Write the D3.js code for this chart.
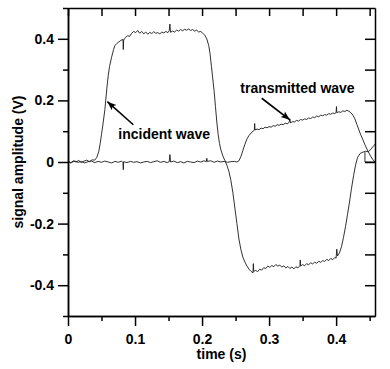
<!DOCTYPE html>
<html>
<head>
<meta charset="utf-8">
<script src="https://cdn.jsdelivr.net/npm/d3@7"></script>
<style>
  html, body { margin: 0; padding: 0; background: #fff; }
  svg { display: block; }
  text { font-family: "Liberation Sans", Arial, sans-serif; font-weight: bold; fill: #000; }
</style>
</head>
<body>
<svg id="chart" width="390" height="369"></svg>
<script>
// ---- data ----
const incidentT = [0.000,0.004,0.008,0.012,0.016,0.020,0.024,0.028,0.032,0.036,0.040,0.043,0.046,0.048,0.050,0.052,0.055,0.058,0.060,0.062,0.065,0.068,0.070,0.073,0.076,0.079,0.082,0.0825,0.083,0.086,0.089,0.092,0.095,0.098,0.101,0.104,0.107,0.110,0.113,0.116,0.119,0.122,0.125,0.128,0.131,0.134,0.137,0.140,0.143,0.146,0.149,0.151,0.152,0.153,0.156,0.159,0.162,0.165,0.168,0.171,0.174,0.177,0.180,0.183,0.186,0.189,0.192,0.195,0.198,0.201,0.204,0.207,0.210,0.212,0.214,0.216,0.218,0.220,0.222,0.224,0.226,0.228,0.231,0.234,0.237,0.240,0.243,0.246,0.249,0.252,0.255,0.258,0.261,0.264,0.267,0.270,0.273,0.276,0.2765,0.277,0.280,0.283,0.286,0.289,0.292,0.295,0.298,0.301,0.304,0.307,0.310,0.313,0.316,0.319,0.322,0.325,0.328,0.331,0.334,0.337,0.340,0.343,0.346,0.3465,0.347,0.350,0.353,0.356,0.359,0.362,0.365,0.368,0.371,0.374,0.377,0.380,0.383,0.386,0.389,0.392,0.395,0.398,0.400,0.401,0.402,0.405,0.408,0.411,0.414,0.417,0.420,0.423,0.426,0.429,0.432,0.436,0.440,0.444,0.448,0.452,0.455,0.458];
const incidentV = [0.002,-0.003,0.004,0.000,0.005,-0.002,0.003,0.006,0.001,0.007,0.006,0.015,0.035,0.060,0.090,0.120,0.170,0.240,0.280,0.310,0.340,0.365,0.378,0.385,0.390,0.395,0.398,0.365,0.396,0.405,0.410,0.408,0.418,0.424,0.420,0.427,0.418,0.424,0.416,0.422,0.415,0.421,0.417,0.423,0.418,0.420,0.416,0.422,0.419,0.424,0.420,0.426,0.448,0.421,0.425,0.422,0.428,0.425,0.430,0.426,0.431,0.428,0.432,0.427,0.430,0.425,0.428,0.422,0.424,0.418,0.412,0.400,0.378,0.350,0.310,0.270,0.230,0.180,0.130,0.090,0.060,0.040,0.020,0.005,-0.010,-0.030,-0.060,-0.100,-0.150,-0.200,-0.250,-0.285,-0.310,-0.325,-0.338,-0.348,-0.355,-0.360,-0.330,-0.355,-0.352,-0.356,-0.348,-0.351,-0.343,-0.346,-0.338,-0.342,-0.336,-0.340,-0.333,-0.338,-0.335,-0.341,-0.337,-0.344,-0.339,-0.346,-0.341,-0.347,-0.340,-0.344,-0.336,-0.318,-0.338,-0.333,-0.337,-0.330,-0.334,-0.327,-0.331,-0.325,-0.329,-0.322,-0.326,-0.320,-0.323,-0.316,-0.320,-0.313,-0.317,-0.310,-0.312,-0.283,-0.305,-0.295,-0.275,-0.245,-0.210,-0.170,-0.130,-0.085,-0.045,-0.010,0.015,0.028,0.032,0.035,0.033,0.042,0.050,0.058];

const transmittedT = [0.000,0.005,0.010,0.015,0.020,0.025,0.030,0.035,0.040,0.045,0.050,0.055,0.060,0.065,0.070,0.075,0.080,0.082,0.0825,0.083,0.088,0.093,0.098,0.103,0.108,0.113,0.118,0.123,0.128,0.133,0.138,0.143,0.148,0.151,0.152,0.153,0.158,0.163,0.168,0.173,0.178,0.183,0.188,0.193,0.198,0.203,0.2065,0.207,0.208,0.213,0.218,0.223,0.228,0.233,0.238,0.243,0.248,0.252,0.255,0.258,0.261,0.264,0.267,0.270,0.273,0.276,0.278,0.2785,0.279,0.282,0.285,0.288,0.291,0.294,0.297,0.300,0.303,0.306,0.309,0.312,0.315,0.318,0.321,0.324,0.327,0.330,0.331,0.332,0.335,0.338,0.341,0.344,0.347,0.350,0.353,0.356,0.359,0.362,0.365,0.368,0.371,0.374,0.377,0.380,0.383,0.386,0.389,0.392,0.395,0.398,0.400,0.4005,0.401,0.404,0.407,0.410,0.413,0.416,0.419,0.422,0.425,0.428,0.431,0.434,0.437,0.440,0.443,0.446,0.449,0.452,0.455,0.458];
const transmittedV = [0.001,-0.002,0.003,-0.001,0.002,-0.003,0.001,0.003,-0.002,0.002,-0.001,0.003,0.000,-0.003,0.002,-0.001,0.003,-0.002,-0.025,0.001,-0.002,0.002,-0.001,0.001,-0.003,0.000,0.002,-0.002,0.001,0.004,-0.001,0.002,-0.002,0.001,0.024,0.000,0.003,-0.002,0.001,-0.003,0.002,0.000,-0.002,0.003,0.000,0.004,0.001,0.012,0.002,0.004,-0.001,0.003,0.000,0.002,-0.001,0.001,0.002,0.000,0.004,0.018,0.038,0.058,0.075,0.086,0.094,0.100,0.103,0.125,0.104,0.107,0.105,0.110,0.108,0.113,0.111,0.115,0.113,0.118,0.116,0.121,0.119,0.123,0.121,0.126,0.124,0.129,0.140,0.127,0.131,0.130,0.135,0.133,0.138,0.136,0.140,0.138,0.143,0.141,0.146,0.144,0.149,0.147,0.152,0.150,0.154,0.152,0.157,0.155,0.159,0.157,0.161,0.180,0.160,0.163,0.161,0.166,0.164,0.168,0.165,0.160,0.152,0.140,0.122,0.104,0.087,0.072,0.056,0.042,0.029,0.017,0.007,0.000];

// small corner stroke at the right edge of the trace
const cornerT = [0.443, 0.443, 0.458];
const cornerV = [0.032, 0.000, 0.000];

const xMajor = [0, 0.1, 0.2, 0.3, 0.4];
const xMinor = [0.05, 0.15, 0.25, 0.35, 0.45];
const yMajor = [-0.4, -0.2, 0, 0.2, 0.4];
const yMinor = [-0.5, -0.3, -0.1, 0.1, 0.3, 0.5];

const annotations = [
  { text: "incident wave", tx: 0.075, ty: 0.0745, fromT: 0.0975, fromV: 0.121, toT: 0.0587, toV: 0.196 },
  { text: "transmitted wave", tx: 0.257, ty: 0.224, fromT: 0.289, fromV: 0.207, toT: 0.331, toV: 0.137 }
];

// ---- layout ----
const svg = d3.select("#chart");
const padL = 68, padR = 375, padT = 8, padB = 316;
const x = d3.scaleLinear().domain([0, 0.458]).range([padL, padR]);
const y = d3.scaleLinear().domain([-0.5, 0.5]).range([padB, padT]);
const fmt = d => d === 0 ? "0" : d3.format(".1f")(d).replace("\u2212", "-");

// traces
const line = d3.line().x(d => x(d[0])).y(d => y(d[1]));
const series = [
  d3.zip(incidentT, incidentV),
  d3.zip(transmittedT, transmittedV),
  d3.zip(cornerT, cornerV)
];
svg.append("g").selectAll("path").data(series).join("path")
  .attr("d", line)
  .attr("fill", "none")
  .attr("stroke", "#1a1a1a")
  .attr("stroke-width", 0.9)
  .attr("stroke-linejoin", "round");

// axes
function styleAxis(g) {
  g.selectAll("path.domain").attr("stroke", "#000").attr("stroke-width", 1.5);
  g.selectAll(".tick line").attr("stroke", "#000").attr("stroke-width", 1.5);
  g.selectAll("text").attr("font-size", 14).attr("font-family", "'Liberation Sans', Arial, sans-serif").attr("font-weight", "bold").attr("fill", "#000");
}
svg.append("g").attr("transform", `translate(0,${padB})`)
  .call(d3.axisBottom(x).tickValues(xMinor).tickSize(5).tickSizeOuter(0).tickFormat(""))
  .call(styleAxis);
svg.append("g").attr("transform", `translate(0,${padB})`)
  .call(d3.axisBottom(x).tickValues(xMajor).tickSize(10).tickSizeOuter(0).tickPadding(8).tickFormat(fmt))
  .call(styleAxis);
svg.append("g").attr("transform", `translate(${padL},0)`)
  .call(d3.axisLeft(y).tickValues(yMinor).tickSize(5).tickSizeOuter(0).tickFormat(""))
  .call(styleAxis);
svg.append("g").attr("transform", `translate(${padL},0)`)
  .call(d3.axisLeft(y).tickValues(yMajor).tickSize(10).tickSizeOuter(0).tickPadding(4).tickFormat(fmt))
  .call(styleAxis);
svg.append("g").attr("transform", `translate(0,${padT})`)
  .call(d3.axisTop(x).tickValues(xMajor.concat(xMinor)).tickSize(-8).tickSizeOuter(0).tickFormat(""))
  .call(styleAxis);
svg.append("g").attr("transform", `translate(${padR},0)`)
  .call(d3.axisRight(y).tickValues(yMajor.concat([-0.3, -0.1, 0.1, 0.3])).tickSize(-10).tickSizeOuter(0).tickFormat(""))
  .call(styleAxis);

// axis titles
svg.append("text").attr("x", (padL + padR) / 2).attr("y", 359)
  .attr("text-anchor", "middle").attr("font-size", 14).text("time (s)");
svg.append("text").attr("transform", `translate(23,${(padT + padB) / 2}) rotate(-90)`)
  .attr("text-anchor", "middle").attr("font-size", 14).text("signal amplitude (V)");

// annotations
const defs = svg.append("defs");
defs.append("marker").attr("id", "arrow").attr("viewBox", "-10 -5 12 10")
  .attr("refX", 0).attr("refY", 0).attr("markerWidth", 12).attr("markerHeight", 10)
  .attr("markerUnits", "userSpaceOnUse").attr("orient", "auto")
  .append("path").attr("d", "M0,0 L-9,-3.5 L-7,0 L-9,3.5 Z").attr("fill", "#000");

const ann = svg.append("g");
ann.selectAll("line").data(annotations).join("line")
  .attr("x1", d => x(d.fromT)).attr("y1", d => y(d.fromV))
  .attr("x2", d => x(d.toT)).attr("y2", d => y(d.toV))
  .attr("stroke", "#000").attr("stroke-width", 1.6)
  .attr("marker-end", "url(#arrow)");
ann.selectAll("text").data(annotations).join("text")
  .attr("x", d => x(d.tx)).attr("y", d => y(d.ty))
  .attr("font-size", 14).text(d => d.text);
</script>
</body>
</html>
